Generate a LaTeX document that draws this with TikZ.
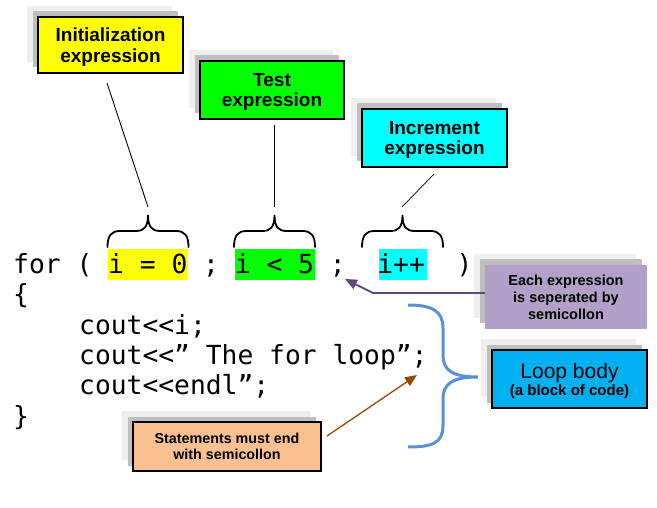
\documentclass[tikz,border=0pt]{standalone}
\usepackage{fontspec}
\setmainfont{Liberation Sans}
\newfontfamily\codefont{DejaVu Sans Mono}
\usetikzlibrary{shadows,arrows.meta}
\definecolor{shlight}{HTML}{EFEFEF}
\definecolor{shdark}{HTML}{BFBFBF}
\definecolor{hlyellow}{HTML}{FFFF00}
\definecolor{hlgreen}{HTML}{00FF00}
\definecolor{hlcyan}{HTML}{00FFFF}
\definecolor{sepfill}{HTML}{B1A0C7}
\definecolor{loopfill}{HTML}{00B0F0}
\definecolor{stmtfill}{HTML}{FAC090}
\definecolor{bracecol}{HTML}{5B8FD6}
\definecolor{sepline}{HTML}{604A7B}
\definecolor{stmtline}{HTML}{984807}
\begin{document}
\begin{tikzpicture}[x=1pt,y=-1pt,
  shbox/.style={rectangle, inner sep=0pt, align=center, text depth=0pt,
    general shadow={fill=shlight, shadow xshift=-11pt, shadow yshift=11pt},
    general shadow={fill=shdark, shadow xshift=-5.5pt, shadow yshift=5.5pt}},
  bordered/.style={draw=black, line width=1.3pt},
  bigtxt/.style={font=\bfseries\fontsize{19}{20.5}\selectfont},
  codeline/.style={anchor=base west, inner sep=0pt, font=\codefont\fontsize{26.3}{30}\selectfont},
  leader/.style={draw=black, line width=0.9pt},
  cbrace/.pic={\draw[line width=1.8pt, line cap=round]
     (-40.5,16) .. controls (-40.5,5) and (-37,0) .. (-28,0) -- (-12,0)
     .. controls (-4,0) and (0,-4) .. (0,-16)
     .. controls (0,-4) and (4,0) .. (12,0) -- (28,0)
     .. controls (37,0) and (40.5,5) .. (40.5,16);}
]
\useasboundingbox[fill=white] (0,0) rectangle (657,508);

% highlights
\fill[hlyellow] (108,249) rectangle (188,280);
\fill[hlgreen] (235,249) rectangle (315,280);
\fill[hlcyan] (379,249) rectangle (427,280);

% code
\node[codeline] (c1) at (13,274) {for\ (\ i\ =\ 0\ ;\ i\ <\ 5\ ;\ \ i++\ \ )};
\node[codeline] (c2) at (13,304) {\{};
\node[codeline] (c3) at (79,334.5) {cout<<i;};
\node[codeline] (c4) at (79,364.7) {cout<<” The for loop”;};
\node[codeline] (c5) at (79,395) {cout<<endl”;};
\node[codeline] (c6) at (13,425) {\}};

% braces over expressions
\pic at (148,231) {cbrace};
\pic at (274.5,231) {cbrace};
\pic at (402.5,231) {cbrace};
\coordinate (t1) at (148,207);
\coordinate (t2) at (274,207);
\coordinate (t3) at (402,207);

% boxes
\node[shbox, bordered, fill=hlyellow, bigtxt, minimum width=145pt, minimum height=56pt]
  (init) at (110.5,45) {Initialization\\expression};
\node[shbox, bordered, fill=hlgreen, bigtxt, minimum width=144pt, minimum height=58pt]
  (test) at (272,90) {Test\\expression};
\node[shbox, bordered, fill=hlcyan, bigtxt, minimum width=145pt, minimum height=58pt]
  (incr) at (434.5,138) {Increment\\expression};
\node[shbox, fill=sepfill, font=\bfseries\fontsize{14.5}{17}\selectfont, minimum width=162pt, minimum height=64pt]
  (sep) at (566,297) {Each expression\\is seperated by\\semicollon};
\node[shbox, bordered, fill=loopfill, font=\fontsize{15}{17}\selectfont, minimum width=155pt, minimum height=58pt]
  (loop) at (569.5,379) {{\fontsize{21}{17}\selectfont Loop body}\\{\bfseries (a block of code)}};
\node[shbox, bordered, fill=stmtfill, font=\bfseries\fontsize{14.3}{16}\selectfont, minimum width=188pt, minimum height=49pt]
  (stmt) at (227,446.5) {Statements must end\\with semicollon};

% leader lines
\coordinate (l1) at (107,83);
\coordinate (l2) at (274,125);
\coordinate (l3) at (434,174);
\draw[leader] (l1) -- (t1);
\draw[leader] (l2) -- (t2);
\draw[leader, line width=0.7pt] (l3) -- (t3);

% purple arrow
\coordinate (sa) at (485,293);
\coordinate (sb) at (373,293);
\coordinate (sc) at (345,279);
\draw[sepline, line width=1.8pt, -{Triangle[length=12pt,width=10pt]}] (sa) -- (sb) -- (sc);

% brown arrow
\coordinate (ba) at (327,436);
\coordinate (bb) at (417,375);
\draw[stmtline, line width=1.3pt, -{Triangle[length=12pt,width=10pt]}] (ba) -- (bb);

% blue brace
\draw[bracecol, line width=3pt]
  (408,305) .. controls (432,305) and (443,311) .. (443,328) -- (443,355)
  .. controls (443,370) and (452,377) .. (478,377)
  .. controls (452,377) and (443,384) .. (443,399) -- (443,426)
  .. controls (443,443) and (432,447) .. (408,447);
\end{tikzpicture}
\end{document}
